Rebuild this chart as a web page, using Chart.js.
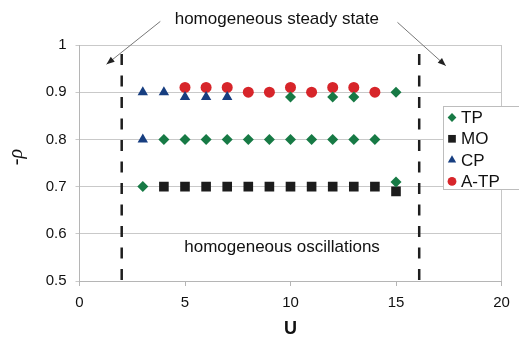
<!DOCTYPE html>
<html>
<head>
<meta charset="utf-8">
<script src="https://cdn.jsdelivr.net/npm/chart.js@4/dist/chart.umd.min.js"></script>
<style>
 html, body { margin: 0; padding: 0; background: #fff; }
 #wrap { width: 519px; height: 337px; }
</style>
</head>
<body>
<div id="wrap"><canvas id="rhoChart" width="519" height="337"></canvas></div>
<script>
// values
const tpU = [3, 4, 5, 6, 7, 8, 9, 10, 11, 12, 13, 14, 10, 12, 13, 15, 15];
const tpRho = [0.7, 0.8, 0.8, 0.8, 0.8, 0.8, 0.8, 0.8, 0.8, 0.8, 0.8, 0.8, 0.89, 0.89, 0.89, 0.9, 0.71];
const moU = [4, 5, 6, 7, 8, 9, 10, 11, 12, 13, 14, 15];
const moRho = [0.7, 0.7, 0.7, 0.7, 0.7, 0.7, 0.7, 0.7, 0.7, 0.7, 0.7, 0.69];
const cpU = [3, 4, 5, 6, 7, 3];
const cpRho = [0.9, 0.9, 0.89, 0.89, 0.89, 0.8];
const atpU = [5, 6, 7, 8, 9, 10, 11, 12, 13, 14];
const atpRho = [0.91, 0.91, 0.91, 0.9, 0.9, 0.91, 0.9, 0.91, 0.91, 0.9];
const boundaryU = [2, 16.1];
const xTicks = [0, 5, 10, 15, 20];
const yTicks = [0.5, 0.6, 0.7, 0.8, 0.9, 1];

const toPoints = (xs, ys) => xs.map((x, i) => ({ x: x, y: ys[i] }));

const font = "'Liberation Sans', Arial, sans-serif";

const series = [
 { label: "TP", xs: tpU, ys: tpRho, style: "rectRot", color: "#177a45", r: 5.5 },
 { label: "MO", xs: moU, ys: moRho, style: "rect", color: "#1c1c1c", r: 6.8 },
 { label: "CP", xs: cpU, ys: cpRho, style: "triangle", color: "#173e80", r: 6 },
 { label: "A-TP", xs: atpU, ys: atpRho, style: "circle", color: "#d7252a", r: 5.5 },
];

function arrow(ctx, x1, y1, x2, y2) {
 ctx.beginPath();
 ctx.moveTo(x1, y1);
 ctx.lineTo(x2, y2);
 ctx.stroke();
 const a = Math.atan2(y2 - y1, x2 - x1);
 const len = 8, w = 3.2;
 ctx.beginPath();
 ctx.moveTo(x2, y2);
 ctx.lineTo(x2 - len * Math.cos(a) + w * Math.sin(a), y2 - len * Math.sin(a) - w * Math.cos(a));
 ctx.lineTo(x2 - len * Math.cos(a) - w * Math.sin(a), y2 - len * Math.sin(a) + w * Math.cos(a));
 ctx.closePath();
 ctx.fill();
}

const overlay = {
 id: "overlay",
 beforeDatasetsDraw(chart) {
  const { ctx, scales: { x, y } } = chart;
  ctx.save();
  ctx.strokeStyle = "#1e1e1e";
  ctx.lineWidth = 2.5;
  ctx.setLineDash([11, 10.5]);
  boundaryU.forEach(u => {
   const px = x.getPixelForValue(u);
   ctx.beginPath();
   ctx.moveTo(px, y.getPixelForValue(0.981));
   ctx.lineTo(px, y.getPixelForValue(0.5));
   ctx.stroke();
  });
  ctx.restore();
 },
 afterDatasetsDraw(chart) {
  const { ctx, scales: { x, y } } = chart;
  ctx.save();
  ctx.fillStyle = "#111";
  ctx.font = "17px " + font;
  ctx.textAlign = "center";
  ctx.textBaseline = "middle";
  ctx.fillText("homogeneous steady state", x.getPixelForValue(9.35), y.getPixelForValue(1.055));
  ctx.fillText("homogeneous oscillations", x.getPixelForValue(9.6), y.getPixelForValue(0.571));

  // y axis title
  ctx.save();
  ctx.translate(17, 157);
  ctx.rotate(-Math.PI / 2);
  ctx.font = "italic 20px 'Liberation Serif', serif";
  ctx.fillText("-ρ", 0, 0);
  ctx.restore();

  ctx.strokeStyle = "#777";
  ctx.fillStyle = "#222";
  ctx.lineWidth = 1;
  arrow(ctx, x.getPixelForValue(3.83), y.getPixelForValue(1.05), x.getPixelForValue(1.28), y.getPixelForValue(0.959));
  arrow(ctx, x.getPixelForValue(15.07), y.getPixelForValue(1.048), x.getPixelForValue(17.36), y.getPixelForValue(0.956));

  // legend box
  ctx.fillStyle = "#fff";
  ctx.strokeStyle = "#bdbdbd";
  ctx.fillRect(443.5, 106.5, 90, 83);
  ctx.strokeRect(443.5, 106.5, 90, 83);
  ctx.textAlign = "left";
  series.forEach((s, i) => {
   const ly = 117.5 + i * 21.3;
   ctx.fillStyle = s.color;
   ctx.strokeStyle = s.color;
   Chart.helpers.drawPoint(ctx, { pointStyle: s.style, radius: s.r * 0.8, rotation: 0, borderWidth: 0 }, 452, ly);
   ctx.fillStyle = "#111";
   ctx.fillText(s.label, 461, ly + 1);
  });
  ctx.restore();
 },
};

new Chart(document.getElementById("rhoChart"), {
 type: "scatter",
 data: {
  datasets: series.map(s => ({
   label: s.label,
   data: toPoints(s.xs, s.ys),
   pointStyle: s.style,
   pointRadius: s.r,
   pointHoverRadius: s.r,
   backgroundColor: s.color,
   borderColor: s.color,
   borderWidth: 0,
  })),
 },
 options: {
  responsive: false,
  animation: false,
  events: [],
  layout: { padding: { top: 45, right: 17.5, left: 0, bottom: 0 } },
  plugins: { legend: { display: false }, tooltip: { enabled: false } },
  scales: {
   x: {
    type: "linear",
    min: 0,
    max: 20,
    afterBuildTicks: s => { s.ticks = xTicks.map(v => ({ value: v })); },
    afterFit: s => { s.height = 56; },
    grid: {
     color: c => (c.tick && c.tick.value === 20 ? "#c6c6c6" : "rgba(0,0,0,0)"),
     tickColor: "#b5b5b5",
     tickLength: 5,
    },
    border: { display: true, color: "#b5b5b5" },
    ticks: { color: "#111", font: { family: font, size: 15 }, padding: 8, callback: v => String(v) },
    title: {
     display: true,
     text: "U",
     color: "#111",
     font: { family: font, size: 18, weight: "bold" },
     padding: { top: 0, bottom: -3 },
    },
   },
   y: {
    type: "linear",
    min: 0.5,
    max: 1,
    afterBuildTicks: s => { s.ticks = yTicks.map(v => ({ value: v })); },
    afterFit: s => { s.width = 79.5; },
    grid: { color: "#c9c9c9", tickLength: 4 },
    border: { display: true, color: "#b5b5b5" },
    ticks: { color: "#111", font: { family: font, size: 15 }, padding: 9, callback: v => String(v) },
   },
  },
 },
 plugins: [overlay],
});
</script>
</body>
</html>
